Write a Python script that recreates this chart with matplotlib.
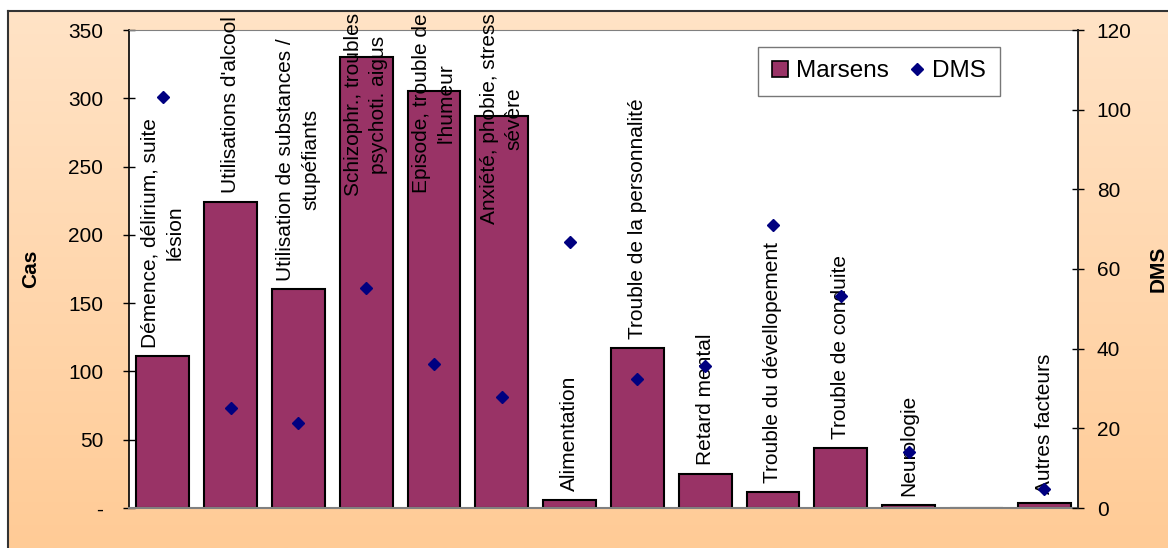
import numpy as np
import matplotlib
matplotlib.use('Agg')
import matplotlib.pyplot as plt
from matplotlib.lines import Line2D
from matplotlib.colors import LinearSegmentedColormap

plt.rcParams['font.family'] = ['Liberation Sans', 'DejaVu Sans']

# data
categories = ["Démence, délirium, suite\nlésion",
              "Utilisations d'alcool",
              "Utilisation de substances /\nstupéfiants",
              "Schizophr., troubles\npsychoti. aigus",
              "Episode, trouble de\nl'humeur",
              "Anxiété, phobie, stress\nsévère",
              "Alimentation",
              "Trouble de la personnalité",
              "Retard mental",
              "Trouble du dévellopement",
              "Trouble de conduite",
              "Neurologie",
              "",
              "Autres facteurs"]
marsens = [111, 224, 160, 330, 305, 287, 6, 117, 25, 12, 44, 2, 0, 4]
dms = [103.1, 25.2, 21.3, 55.3, 36.1, 27.9, 66.7, 32.3, 35.7, 71.1, 53.2, 14.0, np.nan, 4.7]

W, H = 1168, 548
fig = plt.figure(figsize=(W / 100, H / 100), dpi=100)
fig.patch.set_facecolor('white')

# peach gradient background of the chart area
bg = fig.add_axes([8 / W, 0, 1 - 8 / W, 1 - 11 / H], zorder=-5)
grad = np.linspace(0, 1, 256).reshape(-1, 1)
cmap = LinearSegmentedColormap.from_list('peach', ['#FFE3C6', '#FFCB96'])
bg.imshow(grad, aspect='auto', cmap=cmap, extent=[0, 1, 0, 1], origin='upper')
bg.set_xticks([])
bg.set_yticks([])
for side in ['right', 'bottom']:
    bg.spines[side].set_visible(False)
for side in ['left', 'top']:
    bg.spines[side].set_color('#333333')
    bg.spines[side].set_linewidth(1.5)

ax = fig.add_axes([129 / W, 40 / H, (1078 - 129) / W, (508 - 30) / H])
ax.set_facecolor('white')
x = np.arange(len(categories))
ax.bar(x, marsens, width=0.78, color='#993366', edgecolor='black', linewidth=1.5, zorder=2)
ax.set_xlim(-0.5, len(categories) - 0.5)
ax.set_ylim(0, 350)
ax.set_yticks(range(0, 351, 50))
ax.set_yticklabels(['-'] + [str(v) for v in range(50, 351, 50)], fontsize=15)
ax.set_xticks([])
ax.tick_params(axis='y', direction='inout', length=9, width=1, pad=14)
ax.spines['left'].set_color('black')
ax.spines['left'].set_linewidth(1.2)
ax.spines['right'].set_color('#222222')
ax.spines['right'].set_linewidth(1.2)
ax.spines['top'].set_color('#808080')
ax.spines['bottom'].set_color('#808080')
ax.spines['bottom'].set_linewidth(1.5)
ax.set_ylabel('Cas', fontsize=15, fontweight='bold', labelpad=20)

# category labels written vertically above each bar
for xi, val, lab in zip(x, marsens, categories):
    if not lab:
        continue
    if val > 280:
        ax.text(xi, 1.035, lab, rotation=90, ha='center', va='top', fontsize=15, linespacing=1.4,
                multialignment='center', transform=ax.get_xaxis_transform(), zorder=3)
    else:
        ax.text(xi, val + 6.5, lab, rotation=90, ha='center', va='bottom', fontsize=15, linespacing=1.4,
                multialignment='center', zorder=3)

ax2 = ax.twinx()
ax2.plot(x, dms, linestyle='none', marker='D', markersize=6.2, color='#000080', zorder=5)
ax2.set_ylim(0, 120)
ax2.set_yticks(range(0, 121, 20))
ax2.tick_params(axis='y', labelsize=15, direction='inout', length=9, width=1, pad=9)
ax2.set_ylabel('DMS', fontsize=15, fontweight='bold', labelpad=12)
for side in ['left', 'top', 'bottom']:
    ax2.spines[side].set_visible(False)
ax2.spines['right'].set_color('#222222')
ax2.spines['right'].set_linewidth(1.2)

handles = [Line2D([], [], linestyle='none', marker='s', markersize=11, markerfacecolor='#993366',
                  markeredgecolor='black', markeredgewidth=1.2),
           Line2D([], [], linestyle='none', marker='D', markersize=6.2, color='#000080')]
leg = ax2.legend(handles, ['Marsens', 'DMS'], ncol=2, fontsize=17.5, frameon=True, fancybox=False,
                 loc='upper left', bbox_to_anchor=(758 / W, 1 - 47 / H), bbox_transform=fig.transFigure,
                 borderaxespad=0, handlelength=0.7, handletextpad=0.3, columnspacing=0.8,
                 borderpad=0.55)
leg.get_frame().set_edgecolor('#555555')
leg.get_frame().set_linewidth(1.0)

fig.savefig('out.png', dpi=100)
